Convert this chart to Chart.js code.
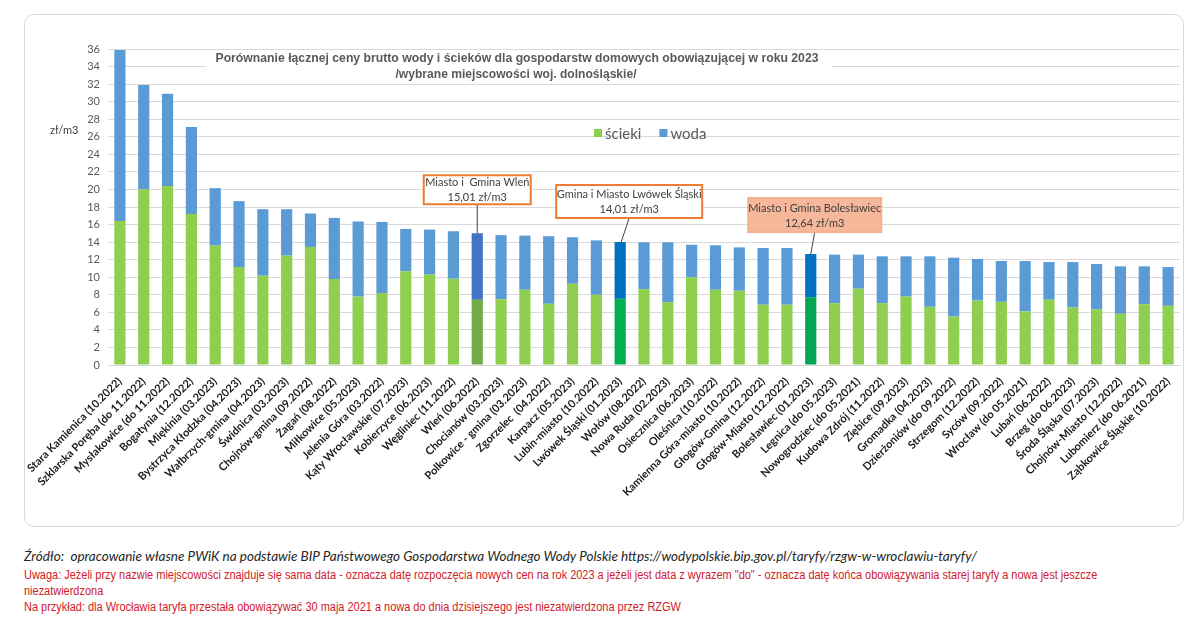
<!DOCTYPE html>
<html>
<head>
<meta charset="utf-8">
<script src="https://cdn.jsdelivr.net/npm/chart.js@4.4.1/dist/chart.umd.min.js"></script>
<style>
  body { margin: 0; width: 1200px; height: 630px; background: #fff; position: relative; overflow: hidden; }
  #frame { position: absolute; left: 24px; top: 14px; width: 1158px; height: 511px; border: 1px solid #d9d9d9; border-radius: 10px; }
  #wrap { position: absolute; left: 0; top: 0; width: 1200px; height: 530px; }
  .note { position: absolute; left: 24px; white-space: nowrap; line-height: 16px; transform-origin: 0 50%; }
  .src { font-family: Lato, "Open Sans", sans-serif; font-style: italic; font-size: 13.5px; color: #262626; }
  .red { font-family: "Liberation Sans", Arial, sans-serif; font-size: 12.5px; color: #d0202a; }
</style>
</head>
<body>
<div id="frame"></div>
<div id="wrap"><canvas id="chart"></canvas></div>

<div class="note src" style="top:548px">Źródło:&nbsp; opracowanie własne PWiK na podstawie BIP Państwowego Gospodarstwa Wodnego Wody Polskie https://wodypolskie.bip.gov.pl/taryfy/rzgw-w-wroclawiu-taryfy/</div>
<div class="note red" id="uwaga" style="top:567px">Uwaga: Jeżeli przy nazwie miejscowości znajduje się sama data - oznacza datę rozpoczęcia nowych cen na rok 2023 a jeżeli jest data z wyrazem "do" - oznacza datę końca obowiązywania starej taryfy a nowa jest jeszcze</div>
<div class="note red" style="top:583px">niezatwierdzona</div>
<div class="note red" style="top:599px">Na przykład: dla Wrocławia taryfa przestała obowiązywać 30 maja 2021 a nowa do dnia dzisiejszego jest niezatwierdzona przez RZGW</div>

<script>
// miejscowości (kolejność jak na wykresie)
const places = [
  'Stara Kamienica (10.2022)', 'Szklarska Poręba (do 11.2022)', 'Mysłakowice (do 11.2022)',
  'Bogatynia (12.2022)', 'Miękinia (03.2023)', 'Bystrzyca Kłodzka (04.2023)',
  'Wałbrzych-gmina (04.2023)', 'Świdnica (03.2023)', 'Chojnów-gmina (09.2022)',
  'Żagań (08.2022)', 'Miłkowice (05.2023)', 'Jelenia Góra (03.2022)',
  'Kąty Wrocławskie (07.2023)', 'Kobierzyce (06.2023)', 'Węgliniec (11.2022)',
  'Wleń (06.2022)', 'Chocianów (03.2023)', 'Polkowice - gmina (03.2023)',
  'Zgorzelec  (04.2022)', 'Karpacz (05.2023)', 'Lubin-miasto (10.2022)',
  'Lwówek Śląski (01.2023)', 'Wołów (08.2022)', 'Nowa Ruda (02.2023)',
  'Osiecznica (06.2023)', 'Oleśnica (10.2022)', 'Kamienna Góra-miasto (10.2022)',
  'Głogów-Gmina (12.2022)', 'Głogów-Miasto (12.2022)', 'Bolesławiec (01.2023)',
  'Legnica (do 05.2023)', 'Nowogrodziec (do 05.2021)', 'Kudowa Zdrój (11.2022)',
  'Ziębice (09.2023)', 'Gromadka (04.2023)', 'Dzierżoniów (do 09.2022)',
  'Strzegom (12.2022)', 'Syców (09.2022)', 'Wrocław (do 05.2021)',
  'Lubań (06.2022)', 'Brzeg (do 06.2023)', 'Środa Śląska (07.2023)',
  'Chojnów-Miasto (12.2022)', 'Lubomierz (do 06.2021)', 'Ząbkowice Śląskie (10.2022)'
];

// zł/m3
const scieki = [
  16.4, 20.0, 20.4, 17.2, 13.6, 11.16, 10.17, 12.46, 13.45, 9.79,
  7.8, 8.2, 10.67, 10.3, 9.83, 7.43, 7.5, 8.57, 6.97, 9.26,
  8.0, 7.54, 8.65, 7.16, 10.0, 8.57, 8.46, 6.86, 6.86, 7.73,
  7.05, 8.69, 7.05, 7.8, 6.63, 5.52, 7.35, 7.2, 6.1, 7.43,
  6.55, 6.36, 5.83, 6.93, 6.74
];
const woda = [
  19.5, 11.9, 10.5, 9.9, 6.55, 7.51, 7.58, 5.29, 3.81, 6.97,
  8.55, 8.1, 4.83, 5.13, 5.41, 7.58, 7.3, 6.17, 7.7, 5.29,
  6.2, 6.47, 5.33, 6.82, 3.7, 5.07, 4.94, 6.47, 6.47, 4.91,
  5.52, 3.88, 5.33, 4.58, 5.75, 6.71, 4.73, 4.65, 5.75, 4.3,
  5.18, 5.14, 5.41, 4.31, 4.42
];

const yTicks = [0, 2, 4, 6, 8, 10, 12, 14, 16, 18, 20, 22, 24, 26, 28, 30, 32, 34, 36];

// wyróżnione słupki i ich opisy
const calloutPlaces = ['Wleń (06.2022)', 'Lwówek Śląski (01.2023)', 'Bolesławiec (01.2023)'];
const calloutTexts = [
  ['Miasto i  Gmina Wleń', '15,01 zł/m3'],
  ['Gmina i Miasto Lwówek Śląski', '14,01 zł/m3'],
  ['Miasto i Gmina Bolesławiec', '12,64 zł/m3']
];

const titleLines = [
  'Porównanie łącznej ceny brutto wody i ścieków dla gospodarstw domowych obowiązującej w roku 2023',
  '/wybrane miejscowości woj. dolnośląskie/'
];

// kolory
const GREEN = '#8fcf4f', BLUE = '#5b9bd5';
const hlGreen = ['#70ad47', '#00b050', '#00a651'];
const hlBlue = ['#4472c4', '#0070c0', '#0070c0'];

// wygląd ramek opisów: dx od środka słupka, odstęp nad słupkiem, szer., wys.
const calloutBox = [
  { dx: 0, gap: 29, w: 107, h: 29, fill: '#ffffff', stroke: '#ed7d31', tip: 0 },
  { dx: 9, gap: 24, w: 146, h: 33, fill: '#ffffff', stroke: '#ed7d31', tip: 1 },
  { dx: 4, gap: 22, w: 133, h: 34, fill: '#f7b79a', stroke: '#f4b08f', tip: 0 }
];

const colorFor = (base, hl) => places.map(p => {
  const k = calloutPlaces.indexOf(p);
  return k >= 0 ? hl[k] : base;
});

// tekst ściśnięty w poziomie do zadanej szerokości (zamiast Arial Narrow)
function narrowText(ctx, text, cx, cy, width) {
  const sx = width / ctx.measureText(text).width;
  ctx.save();
  ctx.translate(cx, cy);
  ctx.scale(sx, 1);
  ctx.fillText(text, 0, 0);
  ctx.restore();
}

const overlay = {
  id: 'overlay',
  afterDraw(chart) {
    const ctx = chart.ctx;
    const xs = chart.scales.x, ys = chart.scales.y;
    ctx.save();

    // tytuł na białym tle
    ctx.fillStyle = '#fff';
    ctx.fillRect(206, 51, 626, 30);
    ctx.fillStyle = '#595959';
    ctx.font = 'bold 13.5px "Liberation Sans", Arial, sans-serif';
    ctx.textAlign = 'center';
    ctx.textBaseline = 'middle';
    narrowText(ctx, titleLines[0], 517, 58, 603);
    narrowText(ctx, titleLines[1], 516, 74, 241);

    // jednostka
    ctx.font = '11px Lato, sans-serif';
    ctx.fillStyle = '#404040';
    ctx.textAlign = 'left';
    ctx.fillText('zł/m3', 50, 130);

    // legenda
    ctx.font = '15px Lato, sans-serif';
    let lx = 594;
    chart.data.datasets.forEach((ds, i) => {
      ctx.fillStyle = i === 0 ? GREEN : BLUE;
      ctx.fillRect(lx, 129, 8, 8);
      ctx.fillStyle = '#595959';
      ctx.fillText(ds.label, lx + 11, 134);
      lx += 11 + ctx.measureText(ds.label).width + 18;
    });

    // opisy wyróżnionych słupków
    ctx.font = '11px Lato, sans-serif';
    calloutPlaces.forEach((p, k) => {
      const i = places.indexOf(p);
      const bx = xs.getPixelForValue(i);
      const by = ys.getPixelForValue(scieki[i] + woda[i]);
      const b = calloutBox[k];
      const left = bx + b.dx - b.w / 2;
      const top = by - b.gap - b.h;
      ctx.strokeStyle = '#404040';
      ctx.lineWidth = 1;
      ctx.beginPath();
      ctx.moveTo(bx + b.dx, top + b.h);
      ctx.lineTo(bx + b.tip, by);
      ctx.stroke();
      ctx.fillStyle = b.fill;
      ctx.fillRect(left, top, b.w, b.h);
      ctx.strokeStyle = b.stroke;
      ctx.lineWidth = 2;
      ctx.strokeRect(left, top, b.w, b.h);
      ctx.fillStyle = '#404040';
      ctx.textAlign = 'center';
      ctx.fillText(calloutTexts[k][0], left + b.w / 2, top + b.h / 2 - 7);
      ctx.fillText(calloutTexts[k][1], left + b.w / 2, top + b.h / 2 + 8);
    });
    ctx.restore();
  }
};

Chart.defaults.font.family = 'Lato, "Open Sans", sans-serif';

new Chart(document.getElementById('chart'), {
  type: 'bar',
  data: {
    labels: places,
    datasets: [
      {
        label: 'ścieki',
        data: scieki,
        backgroundColor: colorFor(GREEN, hlGreen),
        barPercentage: 0.47,
        categoryPercentage: 1
      },
      {
        label: 'woda',
        data: woda,
        backgroundColor: colorFor(BLUE, hlBlue),
        barPercentage: 0.47,
        categoryPercentage: 1
      }
    ]
  },
  options: {
    responsive: true,
    maintainAspectRatio: false,
    animation: false,
    layout: { padding: { top: 49, right: 20, left: 0, bottom: 0 } },
    plugins: { legend: { display: false }, tooltip: { enabled: false } },
    scales: {
      x: {
        stacked: true,
        grid: { display: false },
        border: { color: '#d9d9d9' },
        ticks: {
          autoSkip: false, maxRotation: 45, minRotation: 45, padding: 2,
          color: '#1a1a1a', font: { size: 11, weight: 'bold' }
        },
        afterFit: s => { s.height = 165; }
      },
      y: {
        stacked: true,
        min: 0, max: 36,
        afterBuildTicks: s => { s.ticks = yTicks.map(v => ({ value: v })); },
        grid: { color: '#d9d9d9', drawTicks: false },
        border: { display: false },
        ticks: { padding: 8, color: '#595959', font: { size: 11 } },
        afterFit: s => { s.width = 108; }
      }
    }
  },
  plugins: [overlay]
});

// czerwone uwagi w kroju wąskim: ściśnięcie do szerokości z oryginału
const uw = document.getElementById('uwaga');
const sx = 1073 / uw.scrollWidth;
document.querySelectorAll('.red').forEach(el => { el.style.transform = 'scaleX(' + sx + ')'; });
</script>
</body>
</html>
